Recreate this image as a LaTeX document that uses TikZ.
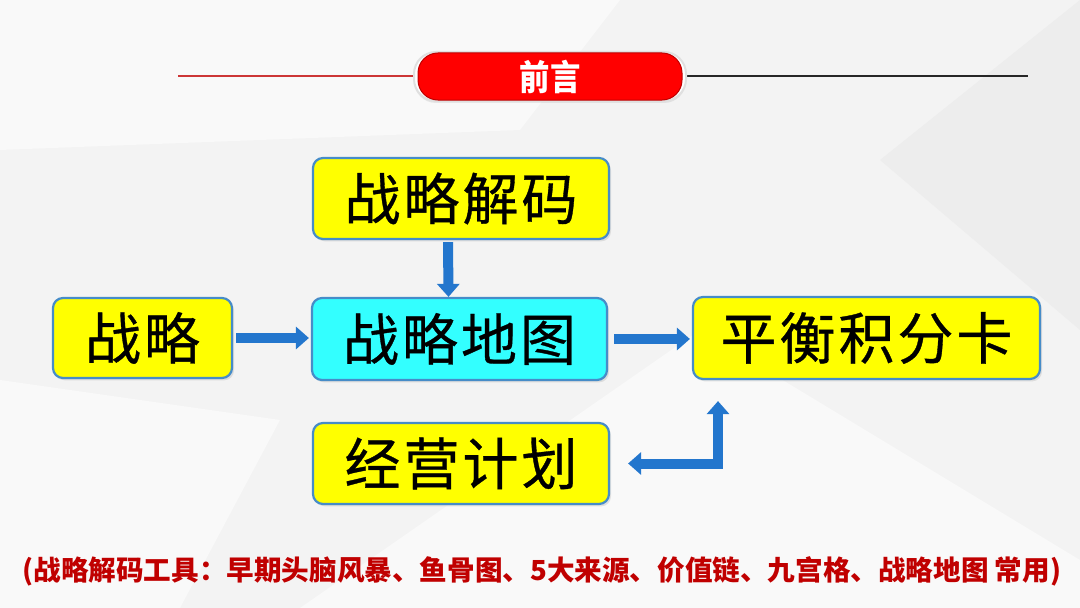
\documentclass[tikz,border=0pt]{standalone}
\usepackage{fontspec}
\setmainfont{Noto Sans CJK SC}
\newfontfamily\cjk{Noto Sans CJK SC}
\newfontfamily\cjkbox[FakeBold=0.6]{Noto Sans CJK SC}
\usetikzlibrary{arrows.meta,shadows}
\definecolor{bgc}{RGB}{243,243,243}
\definecolor{bglight}{RGB}{249,249,249}
\definecolor{bgdark}{RGB}{237,237,237}
\definecolor{boxedge}{RGB}{70,140,200}
\definecolor{yel}{RGB}{255,255,0}
\definecolor{cyn}{RGB}{51,255,255}
\definecolor{arrblue}{RGB}{35,118,205}
\definecolor{arrlight}{RGB}{95,165,235}
\definecolor{titlered}{RGB}{255,0,0}
\definecolor{linered}{RGB}{205,55,55}
\definecolor{noteRed}{RGB}{192,0,0}
\newcommand\cg{\hspace{1.5pt}}
\tikzset{
  flowbox/.style={draw=boxedge, line width=1.1pt, rounded corners=5pt,
    fill=yel, inner sep=0pt, font=\cjkbox\fontsize{28}{28}\selectfont,
    drop shadow={opacity=0.2, shadow xshift=1pt, shadow yshift=-1.2pt}},
  bigarrow/.style={draw=arrblue, line width=5pt,
    -{Triangle[width=11pt,length=6.5pt]}},
  bigarrowboth/.style={draw=arrblue, line width=5pt,
    {Triangle[width=11pt,length=6.5pt]}-{Triangle[width=11pt,length=6.5pt]}},
}
\begin{document}
\begin{tikzpicture}[x=0.5pt,y=-0.5pt]
\useasboundingbox (0,0) rectangle (1080,608);
% background
\fill[bgc] (0,0) rectangle (1080,608);
\fill[bglight] (0,0) -- (620,0) -- (520,130) -- (0,150) -- cycle;
\fill[bglight] (300,608) -- (700,330) -- (1080,560) -- (1080,608) -- cycle;
\fill[bgdark] (1080,0) -- (1080,330) -- (880,160) -- cycle;
\fill[bglight] (0,380) -- (280,420) -- (180,608) -- (0,608) -- cycle;
% title
\draw[linered, line width=1pt] (178,76) coordinate (ll) -- (414,76) coordinate (lr);
\draw[black!85, line width=1pt] (686,76) coordinate (rl) -- (1028,76) coordinate (rr);
\node[draw=black!12, line width=1pt, fill=white, rounded corners=11pt,
  minimum width=136pt, minimum height=24.5pt,
  drop shadow={opacity=0.15, shadow xshift=0pt, shadow yshift=-1pt}] (pillout) at (550,76.5) {};
\node[fill=titlered, draw=red!75!black, line width=0.5pt, rounded corners=10pt,
  minimum width=132pt, minimum height=20.5pt, text=white,
  font=\cjk\bfseries\fontsize{16}{16}\selectfont] (title) at (550,76.5) {\scalebox{0.95}[1.1]{前言}};
% boxes
\node[flowbox, minimum width=148pt, minimum height=40.5pt] (decode) at (461,198.5) {战\cg 略\cg 解\cg 码};
\node[flowbox, minimum width=89.5pt, minimum height=40pt] (strat) at (142.5,338) {战\cg 略};
\node[flowbox, fill=cyn, minimum width=147.5pt, minimum height=41pt] (map) at (459.5,339) {战\cg 略\cg 地\cg 图};
\node[flowbox, minimum width=173.5pt, minimum height=41pt] (bsc) at (866.5,338) {平\cg 衡\cg 积\cg 分\cg 卡};
\node[flowbox, minimum width=148pt, minimum height=40.5pt] (plan) at (461,463.5) {经\cg 营\cg 计\cg 划};
% arrows
\draw[bigarrow, shorten <=1pt] ([xshift=-6.5pt]decode.south) -- ([xshift=-5.5pt]map.north);
\draw[bigarrow, shorten <=1.5pt, shorten >=1pt] (strat.east) -- (strat.east -| map.west);
\draw[bigarrow, shorten <=3pt, shorten >=1pt] (map.east) -- (map.east -| bsc.west);
\coordinate (elb) at (718,463);
\draw[bigarrowboth, shorten <=9pt, shorten >=10.5pt] (plan.east) -| (elb |- bsc.south);
% note
\node[anchor=west, text=noteRed, inner sep=0pt,
  font=\cjk\bfseries\fontsize{13.8}{14}\selectfont] (note) at (22,571)
  {(战略解码工具：早期头脑风暴、鱼骨图、5大来源、价值链、九宫格、战略地图 常用)};
\end{tikzpicture}
\end{document}
